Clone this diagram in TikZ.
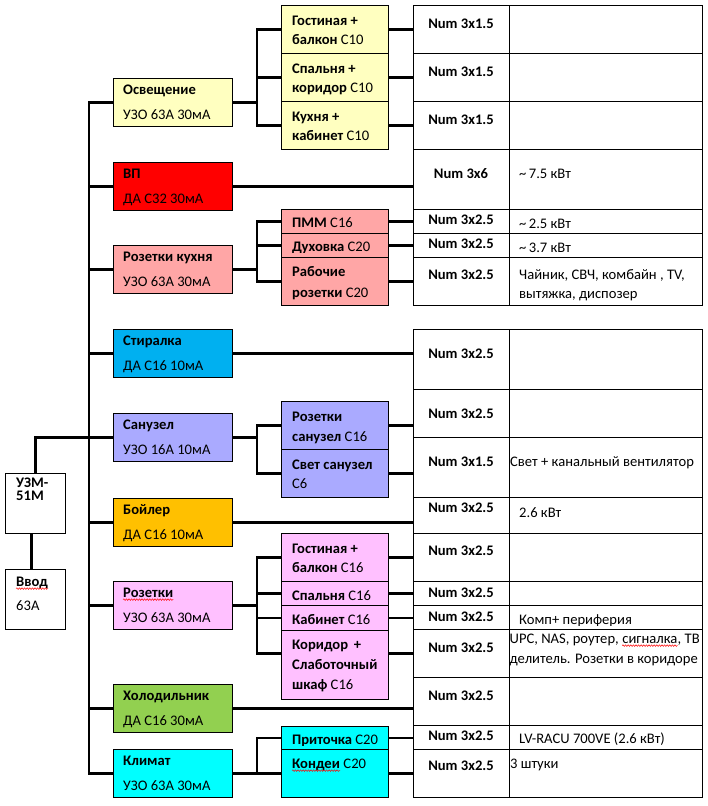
\documentclass[tikz,border=0pt]{standalone}
\usepackage{fontspec}
\setmainfont{Carlito}
\usetikzlibrary{decorations.pathmorphing}
\definecolor{cYel}{RGB}{255,255,192}
\definecolor{cPink}{RGB}{255,166,166}
\definecolor{cBlue}{RGB}{0,176,240}
\definecolor{cLav}{RGB}{170,170,255}
\definecolor{cOra}{RGB}{255,192,0}
\definecolor{cMag}{RGB}{255,192,255}
\definecolor{cGrn}{RGB}{146,208,80}
\definecolor{cCyan}{RGB}{0,255,255}
\definecolor{cRed}{RGB}{255,0,0}
\newcommand\lbl[4]{\node[lab] (#1) at (#2,#3) {#4};}
\newcommand\glab[4]{%
  \node[lab] (#1a) at (123,#2+16) {\textbf{#3}};
  \node[lab] (#1b) at (123,#2+41) {#4};}
\newcommand\trow[5]{%
  \node[cellA, minimum height=#3pt] (c#1) at (413,#2) {};
  \node[cellB, minimum height=#3pt] (d#1) at (509,#2) {};
  \node[numlab] (n#1) at (461,#4) {#5};}
\newcommand\wavy[1]{\draw[spell] ([yshift=-2.6pt]#1.base west) -- ([yshift=-2.6pt]#1.base east);}
\begin{document}
\begin{tikzpicture}[x=1pt,y=-1pt,
  font=\fontsize{14.6}{17}\selectfont,
  bx/.style={draw=black, line width=0.8pt, inner sep=0pt, anchor=north west},
  grp/.style={bx, minimum width=119pt, minimum height=48pt, fill=#1},
  sub/.style={bx, minimum width=107pt, fill=#1},
  plain/.style={bx, minimum width=60pt, minimum height=60pt, fill=white},
  cellA/.style={bx, minimum width=96pt, fill=white},
  cellB/.style={bx, minimum width=193pt, fill=white},
  lab/.style={anchor=base west, inner sep=0pt},
  numlab/.style={anchor=base, inner sep=0pt, font=\fontsize{14.6}{17}\selectfont\bfseries},
  conn/.style={line width=2.8pt, line join=miter},
  spell/.style={draw=red, line width=0.5pt, decorate,
    decoration={snake, segment length=2.6pt, amplitude=0.8pt}}]
\useasboundingbox (0,0) rectangle (707,806);

% ---- input blocks
\node[plain] (uzm) at (5,473) {};
\node[plain] (vvod) at (5,569) {};
\lbl{Luzma}{16}{487}{\textbf{УЗМ-}}
\lbl{Luzmb}{16}{500}{\textbf{51М}}
\lbl{Lvvoda}{16}{586}{\textbf{Ввод}}
\lbl{Lvvodb}{16}{610}{63А}
\wavy{Lvvoda}

% ---- group boxes
\node[grp=cYel] (osv) at (113,78) {};
\node[grp=cRed] (vp) at (113,162) {};
\node[grp=cPink] (rk) at (113,245) {};
\node[grp=cBlue] (str) at (113,329) {};
\node[grp=cLav] (san) at (113,413) {};
\node[grp=cOra] (boi) at (113,498) {};
\node[grp=cMag] (roz) at (113,581) {};
\node[grp=cGrn] (hol) at (113,684) {};
\node[grp=cCyan] (klim) at (113,749) {};
\glab{Losv}{78}{Освещение}{УЗО 63А 30мА}
\glab{Lvp}{162}{ВП}{ДА C32 30мА}
\glab{Lrk}{245}{Розетки кухня}{УЗО 63А 30мА}
\glab{Lstr}{329}{Стиралка}{ДА C16 10мА}
\glab{Lsan}{413}{Санузел}{УЗО 16А 10мА}
\glab{Lboi}{498}{Бойлер}{ДА C16 10мА}
\glab{Lroz}{581}{Розетки}{УЗО 63А 30мА}
\glab{Lhol}{684}{Холодильник}{ДА C16 30мА}
\glab{Lklim}{749}{Климат}{УЗО 63А 30мА}
\wavy{Lroza}

% ---- sub boxes
\node[sub=cYel, minimum height=48pt] (s1) at (281,5) {};
\node[sub=cYel, minimum height=48pt] (s2) at (281,53) {};
\node[sub=cYel, minimum height=48pt] (s3) at (281,101) {};
\node[sub=cPink, minimum height=24pt] (k1) at (281,209) {};
\node[sub=cPink, minimum height=24pt] (k2) at (281,233) {};
\node[sub=cPink, minimum height=48pt] (k3) at (281,257) {};
\node[sub=cLav, minimum height=48pt] (u1) at (281,401) {};
\node[sub=cLav, minimum height=48pt] (u2) at (281,449) {};
\node[sub=cMag, minimum height=48pt] (r1) at (281,533) {};
\node[sub=cMag, minimum height=24pt] (r2) at (281,581) {};
\node[sub=cMag, minimum height=25pt] (r3) at (281,605) {};
\node[sub=cMag, minimum height=69pt] (r4) at (281,630) {};
\node[sub=cCyan, minimum height=23pt] (a1) at (281,726) {};
\node[sub=cCyan, minimum height=48pt] (a2) at (281,749) {};

\lbl{Ls1a}{292}{25}{\textbf{Гостиная +}}
\lbl{Ls1b}{292}{44}{\textbf{балкон} C10}
\lbl{Ls2a}{292}{73}{\textbf{Спальня +}}
\lbl{Ls2b}{292}{92}{\textbf{коридор} C10}
\lbl{Ls3a}{292}{121}{\textbf{Кухня +}}
\lbl{Ls3b}{292}{140}{\textbf{кабинет} C10}
\lbl{Lk1a}{292}{227}{\textbf{ПММ} C16}
\begin{scope}
\clip (281,233) rectangle (388,252.5);
\lbl{Lk2a}{292}{251}{\textbf{Духовка} C20}
\end{scope}
\lbl{Lk3a}{292}{276}{\textbf{Рабочие}}
\lbl{Lk3b}{292}{297}{\textbf{розетки} C20}
\lbl{Lu1a}{292}{421}{\textbf{Розетки}}
\lbl{Lu1b}{292}{441}{\textbf{санузел} C16}
\lbl{Lu2a}{292}{469}{\textbf{Свет санузел}}
\lbl{Lu2b}{292}{488}{C6}
\lbl{Lr1a}{292}{553}{\textbf{Гостиная +}}
\lbl{Lr1b}{292}{572}{\textbf{балкон} C16}
\lbl{Lr2a}{292}{600}{\textbf{Спальня} C16}
\lbl{Lr3a}{292}{624}{\textbf{Кабинет} C16}
\lbl{Lr4a}{292}{649}{\textbf{Коридор\hspace{0.4em}+}}
\lbl{Lr4b}{292}{669}{\textbf{Слаботочный}}
\lbl{Lr4c}{292}{689}{\textbf{шкаф} C16}
\begin{scope}
\clip (281,726) rectangle (388,745);
\lbl{La1a}{292}{744}{\textbf{Приточка} C20}
\end{scope}
\lbl{La2a}{292}{768}{\textbf{Кондеи}}
\node[lab] (La2b) at ([xshift=3.2pt]La2a.base east) {C20};
\wavy{La2a}

% ---- cable table
\trow{1}{5}{48}{28}{Num 3x1.5}
\trow{2}{53}{48}{76}{Num 3x1.5}
\trow{3}{101}{48}{124}{Num 3x1.5}
\trow{4}{149}{60}{178}{Num 3x6}
\trow{5}{209}{24}{224}{Num 3x2.5}
\trow{6}{233}{24}{248}{Num 3x2.5}
\trow{7}{257}{48}{279}{Num 3x2.5}
\trow{8}{329}{60}{358}{Num 3x2.5}
\trow{9}{389}{48}{418}{Num 3x2.5}
\trow{10}{437}{60}{466}{Num 3x1.5}
\trow{11}{497}{36}{512}{Num 3x2.5}
\trow{12}{533}{48}{555}{Num 3x2.5}
\trow{13}{581}{24}{597}{Num 3x2.5}
\trow{14}{605}{24}{621}{Num 3x2.5}
\trow{15}{629}{48}{652}{Num 3x2.5}
\trow{16}{677}{48}{700}{Num 3x2.5}
\trow{17}{725}{24}{740}{Num 3x2.5}
\trow{18}{749}{48}{770}{Num 3x2.5}

\lbl{t4}{519}{178}{\textasciitilde\,7.5 кВт}
\lbl{t5}{519}{228}{\textasciitilde\,2.5 кВт}
\lbl{t6}{519}{252}{\textasciitilde\,3.7 кВт}
\lbl{t7a}{519}{279}{Чайник, СВЧ, комбайн , TV,}
\lbl{t7b}{519}{298}{вытяжка, диспозер}
\lbl{t10}{510}{466}{Свет + канальный вентилятор}
\lbl{t11}{519}{517}{2.6 кВт}
\begin{scope}
\clip (509,605) rectangle (702,625);
\lbl{t14}{519}{624}{Комп+ периферия}
\end{scope}
\lbl{t15a}{509.5}{643}{UPC, NAS, роутер,}
\node[lab] (t15s) at ([xshift=3.2pt]t15a.base east) {сигналка};
\node[lab] (t15e) at (t15s.base east) {, ТВ};
\wavy{t15s}
\lbl{t15b}{509.5}{663}{делитель. Розетки в коридоре}
\begin{scope}
\clip (509,725) rectangle (702,744.5);
\lbl{t17}{519}{743}{LV-RACU 700VE (2.6 кВт)}
\end{scope}
\lbl{t18}{510}{768}{3 штуки}

% ---- connectors
\coordinate (busx) at (89,0);
\coordinate (sbx) at (257,0);
\draw[conn] (osv.west) -- (osv.west -| busx) -- (klim.west -| busx) -- (klim.west);
\foreach \g in {vp,rk,str,san,boi,roz,hol}
  \draw[conn] (\g.west -| busx) -- (\g.west);
\draw[conn] (uzm.north) -- (uzm.north |- san.west) -- (san.west -| busx);
\draw[conn] ([xshift=-4pt]uzm.south) -- ([xshift=-4pt]vvod.north);

\draw[conn] (s1.west) -- (s1.west -| sbx) -- (s3.west -| sbx) -- (s3.west);
\draw[conn] (s2.west -| sbx) -- (s2.west);
\draw[conn] (osv.east) -- (osv.east -| sbx);

\draw[conn] (k1.west) -- (k1.west -| sbx) -- (k3.west -| sbx) -- (k3.west);
\draw[conn] (k2.west -| sbx) -- (k2.west);
\draw[conn] (rk.east) -- (rk.east -| sbx);

\draw[conn] (u1.west) -- (u1.west -| sbx) -- (u2.west -| sbx) -- (u2.west);
\draw[conn] (san.east) -- (san.east -| sbx);

\coordinate (r4w) at ([yshift=11.5pt]r4.west);
\coordinate (r4e) at ([yshift=11.5pt]r4.east);
\draw[conn] (r1.west) -- (r1.west -| sbx) -- (r4w -| sbx) -- (r4w);
\draw[conn] (r2.west -| sbx) -- (r2.west);
\draw[conn] (r3.west -| sbx) -- (r3.west);
\draw[conn] (roz.east) -- (roz.east -| sbx);

\draw[conn] (a1.west) -- (a1.west -| sbx) -- (a2.west -| sbx) -- (a2.west);
\draw[conn] (klim.east) -- (klim.east -| sbx);

\foreach \s/\c in {s1/c1, s2/c2, s3/c3, vp/c4, k1/c5, k2/c6, k3/c7, str/c8,
  u1/c9, u2/c10, boi/c11, r1/c12, r2/c13, r3/c14, hol/c16, a1/c17, a2/c18}
  \draw[conn] (\s.east) -- (\s.east -| \c.west);
\draw[conn] (r4e) -- (r4e -| c15.west);
\end{tikzpicture}
\end{document}
